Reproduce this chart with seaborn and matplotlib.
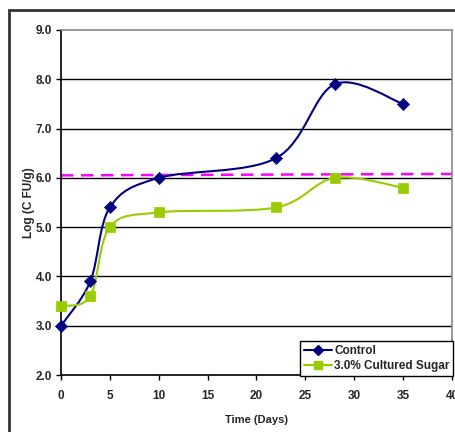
import numpy as np
import matplotlib
matplotlib.use("Agg")
import matplotlib.pyplot as plt
import seaborn as sns
from matplotlib.path import Path
from matplotlib.patches import PathPatch, Rectangle
from matplotlib.lines import Line2D

days = [0, 3, 5, 10, 22, 28, 35]
control = [3.0, 3.9, 5.4, 6.0, 6.4, 7.9, 7.5]
sugar = [3.4, 3.6, 5.0, 5.3, 5.4, 6.0, 5.8]
threshold_x = [0, 40]
threshold_y = [6.05, 6.08]
series_names = ["Control", "3.0% Cultured Sugar"]

sns.set_theme(style="white")
plt.rcParams['font.family'] = ['Liberation Sans', 'DejaVu Sans']

fig = plt.figure(figsize=(4.56, 4.32), dpi=100)
ax = fig.add_axes([61/456, 1-375/432, (452-61)/456, (375-30)/432])

# outer chart frame
fig.patches.append(Rectangle((9/456, -0.05), 1.2, (432-10)/432 + 0.05, transform=fig.transFigure,
                             fill=False, edgecolor='#333333', linewidth=2))


def smooth_path(x, y):
    x = np.asarray(x, float); y = np.asarray(y, float)
    n = len(x)
    verts = [(x[0], y[0])]
    codes = [Path.MOVETO]
    for i in range(n - 1):
        p0 = (x[i-1], y[i-1]) if i > 0 else (x[i], y[i])
        p1 = (x[i], y[i]); p2 = (x[i+1], y[i+1])
        p3 = (x[i+2], y[i+2]) if i + 2 < n else p2
        c1 = (p1[0] + (p2[0]-p0[0])/6, p1[1] + (p2[1]-p0[1])/6)
        c2 = (p2[0] - (p3[0]-p1[0])/6, p2[1] - (p3[1]-p1[1])/6)
        verts += [c1, c2, p2]
        codes += [Path.CURVE4]*3
    return Path(verts, codes)

navy = '#000080'
green = '#99CC00'

for yv, col in [(control, navy), (sugar, green)]:
    ax.add_patch(PathPatch(smooth_path(days, yv), fill=False, edgecolor=col, linewidth=1.5, zorder=3))

sns.scatterplot(x=days, y=control, ax=ax, marker='D', color=navy, s=38, edgecolor=navy,
                zorder=4, legend=False, clip_on=False)
sns.scatterplot(x=days, y=sugar, ax=ax, marker='s', color=green, s=42, edgecolor=green,
                zorder=4, legend=False, clip_on=False)
sns.lineplot(x=threshold_x, y=threshold_y, ax=ax, color='#FF00FF', linestyle=(0, (5, 3)), linewidth=1.8, zorder=2)

ax.set_xlim(0, 40)
ax.set_ylim(2, 9)
ax.set_xticks(range(0, 41, 5))
ax.set_yticks(np.arange(2, 9.01, 1))
ax.set_yticklabels([f"{v:.1f}" for v in np.arange(2, 9.01, 1)])
for v in range(3, 9):
    ax.axhline(v, color='black', linewidth=1, zorder=1)

for lab in ax.get_xticklabels() + ax.get_yticklabels():
    lab.set_fontweight('bold')
    lab.set_fontsize(8.5)
ax.tick_params(axis='both', direction='out', length=3.5, width=1, color='black',
               bottom=True, left=True)
ax.tick_params(axis='x', pad=7)
ax.tick_params(axis='y', pad=3)
ax.set_xlabel("Time (Days)", fontsize=8, fontweight='bold', labelpad=10)
ax.set_ylabel("Log (C FU/g)", fontsize=8.5, fontweight='bold', labelpad=0)

for s in ['left', 'bottom']:
    ax.spines[s].set_color('black'); ax.spines[s].set_linewidth(1.2)
for s in ['top', 'right']:
    ax.spines[s].set_color('#888888'); ax.spines[s].set_linewidth(1.2)
    ax.spines[s].set_visible(True)

handles = [Line2D([], [], color=navy, marker='D', markersize=5, linewidth=1.5),
           Line2D([], [], color=green, marker='s', markersize=5.5, linewidth=1.5)]
leg = ax.legend(handles, series_names, loc='lower right', bbox_to_anchor=(1.003, -0.003),
                frameon=True, fancybox=False, edgecolor='black', framealpha=1,
                prop={'weight': 'bold', 'size': 8.5}, handlelength=2.4, handletextpad=0.2,
                borderpad=0.3, labelspacing=0.3, borderaxespad=0)
leg.get_frame().set_linewidth(1)

fig.savefig("out.png", dpi=100)
